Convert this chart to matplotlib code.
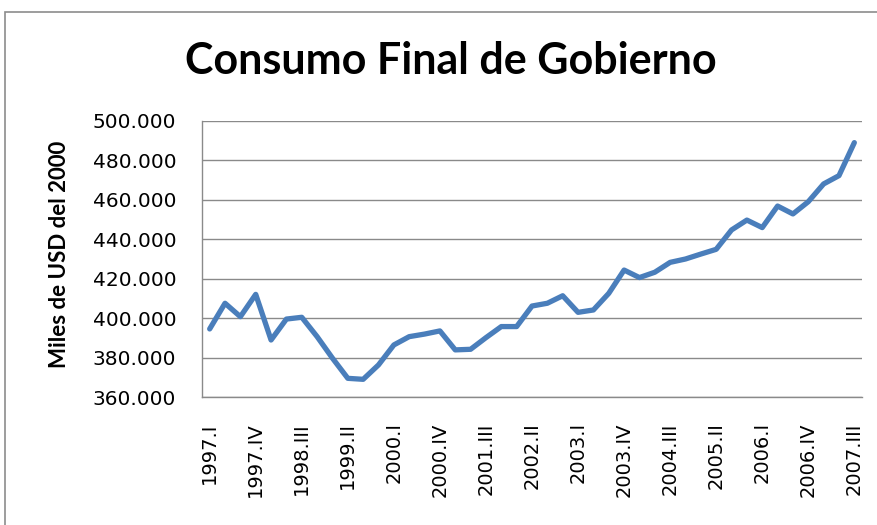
import matplotlib
matplotlib.use("Agg")
import matplotlib.pyplot as plt
from matplotlib.patches import Rectangle
from matplotlib.ticker import FuncFormatter

# ── Data (miles de USD del 2000, trimestral) ─────────────────────────────────
years = list(range(1997, 2008))
roman = ["I", "II", "III", "IV"]
quarters = [f"{y}.{q}" for y in years for q in roman][:43]   # 1997.I .. 2007.III

consumo = [
    394600, 407600, 400800, 412100, 389000, 399600, 400500, 390700,
    379800, 369600, 369100, 376400, 386500, 390700, 392000, 393600,
    384000, 384300, 390200, 395800, 395800, 406200, 407600, 411400,
    403000, 404200, 412600, 424400, 420600, 423300, 428300, 430000,
    432500, 434900, 444700, 449700, 445900, 456800, 452800, 459000,
    468000, 472200, 488900,
]

tick_step = 3
y_ticks = [360000, 380000, 400000, 420000, 440000, 460000, 480000, 500000]

# ── Figure ───────────────────────────────────────────────────────────────────
W, H = 877, 525
fig = plt.figure(figsize=(W / 100, H / 100), dpi=100)

# chart border (only top/left edges visible in the crop)
fig.patches.append(Rectangle((5 / W, -0.1), 1.2, 1 - 12 / H + 0.1,
                             transform=fig.transFigure, fill=False,
                             edgecolor="#8c8c8c", linewidth=1.2))

ax = fig.add_axes([202 / W, 1 - 397.3 / H, 660 / W, 276.6 / H])
x = list(range(len(consumo)))
ax.plot(x, consumo, color="#4a7ebb", linewidth=3.8, solid_capstyle="round",
        solid_joinstyle="round", zorder=3)

ax.set_xlim(-0.5, len(consumo) - 0.5)
ax.set_ylim(y_ticks[0], y_ticks[-1])
ax.set_yticks(y_ticks)
ax.yaxis.set_major_formatter(FuncFormatter(lambda v, _: f"{v:,.0f}".replace(",", ".")))
ax.set_xticks(x[::tick_step])
ax.set_xticklabels(quarters[::tick_step], rotation=90)

ax.grid(axis="y", color="#8a8a8a", linewidth=1.0)
ax.set_axisbelow(True)
for side in ("top", "right"):
    ax.spines[side].set_visible(False)
for side in ("left", "bottom"):
    ax.spines[side].set_color("#8a8a8a")
    ax.spines[side].set_linewidth(1.0)

ax.tick_params(axis="y", length=0, pad=18.5, labelsize=14.5)
ax.tick_params(axis="x", length=0, pad=18, labelsize=14)
for lbl in ax.get_xticklabels() + ax.get_yticklabels():
    lbl.set_family("DejaVu Sans")

fig.text(451 / W, 1 - 74 / H, "Consumo Final de Gobierno", ha="center",
         va="baseline", fontsize=31, fontweight="bold", family="Lato")
fig.text(60 / W, 1 - 254 / H, "Miles de USD del 2000", rotation=90,
         ha="center", va="center", fontsize=16, fontweight="bold", family="Lato")

fig.savefig("out.png", dpi=100)
